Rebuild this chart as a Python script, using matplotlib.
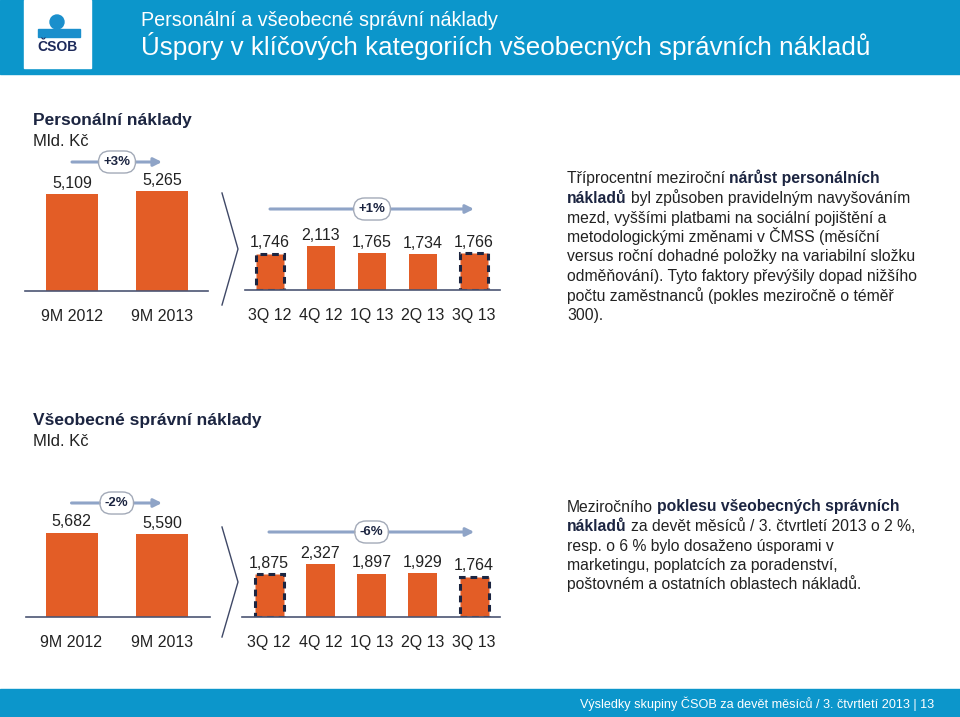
import matplotlib.pyplot as plt
from matplotlib.patches import Rectangle, Circle

plt.rcParams['font.family'] = ['Liberation Sans', 'DejaVu Sans']

# --- data ---
personal_years = ['9M 2012', '9M 2013']
personal_year_values = [5109, 5265]
personal_quarters = ['3Q 12', '4Q 12', '1Q 13', '2Q 13', '3Q 13']
personal_quarter_values = [1746, 2113, 1765, 1734, 1766]
personal_changes = ['+3%', '+1%']

general_years = ['9M 2012', '9M 2013']
general_year_values = [5682, 5590]
general_quarters = ['3Q 12', '4Q 12', '1Q 13', '2Q 13', '3Q 13']
general_quarter_values = [1875, 2327, 1897, 1929, 1764]
general_changes = ['-2%', '-6%']

personal_text = [
    [('Tříprocentní meziroční', False), ('nárůst personálních', True)],
    [('nákladů', True), ('byl způsoben pravidelným navyšováním', False)],
    [('mezd, vyššími platbami na sociální pojištění a', False)],
    [('metodologickými změnami v ČMSS (měsíční', False)],
    [('versus roční dohadné položky na variabilní složku', False)],
    [('odměňování). Tyto faktory převýšily dopad nižšího', False)],
    [('počtu zaměstnanců (pokles meziročně o téměř', False)],
    [('300).', False)],
]
general_text = [
    [('Meziročního', False), ('poklesu všeobecných správních', True)],
    [('nákladů', True), ('za devět měsíců / 3. čtvrtletí 2013 o 2 %,', False)],
    [('resp. o 6 % bylo dosaženo úsporami v', False)],
    [('marketingu, poplatcích za poradenství,', False)],
    [('poštovném a ostatních oblastech nákladů.', False)],
]

# --- colours ---
BLUE = '#0C96CB'
ORANGE = '#E35D26'
NAVY = '#1C2541'
TEXT = '#222222'
ARROW = '#8FA4C7'
AXIS = '#4B5573'

W, H = 960, 717
fig = plt.figure(figsize=(W / 100, H / 100), dpi=100)
bg = fig.add_axes([0, 0, 1, 1])
bg.set_xlim(0, W)
bg.set_ylim(H, 0)
bg.axis('off')


def bar_panel(x0, x1, ytop, ybase, c0, step, bar_px, per_px,
              labels, values, change, arrow_y, dashed=False):
    ax = fig.add_axes([x0 / W, 1 - ybase / H, (x1 - x0) / W, (ybase - ytop) / H])
    ax.patch.set_alpha(0)
    n = len(values)
    ax.set_xlim(-(c0 - x0) / step, (x1 - c0) / step)
    ax.set_ylim(0, (ybase - ytop) * per_px)
    idx = list(range(n))
    bars = ax.bar(idx, values, width=bar_px / step, color=ORANGE, zorder=2)
    if dashed:
        for i in (0, n - 1):
            bars[i].set_edgecolor(NAVY)
            bars[i].set_linestyle((0, (2.2, 1.6)))
            bars[i].set_linewidth(2.2)
    for i, v in enumerate(values):
        ax.annotate(f'{v:,}', (i, v), xytext=(0, 2.5), textcoords='offset points',
                    ha='center', va='bottom', fontsize=11.5, color=TEXT)
    ax.set_xticks(idx, labels)
    ax.set_yticks([])
    ax.tick_params(length=0, pad=13, labelsize=11.5, labelcolor=TEXT)
    for s in ['top', 'left', 'right']:
        ax.spines[s].set_visible(False)
    ax.spines['bottom'].set_color(AXIS)
    ax.spines['bottom'].set_linewidth(1.2)
    # change arrow
    tr = ax.get_xaxis_transform()
    fy = (ybase - arrow_y) / (ybase - ytop)
    ax.annotate('', xy=(n - 1, fy), xytext=(0, fy), xycoords=tr, textcoords=tr,
                arrowprops=dict(arrowstyle='-|>', color=ARROW, lw=2.2,
                                mutation_scale=12, shrinkA=0, shrinkB=0),
                annotation_clip=False)
    ax.text((n - 1) / 2, fy, change, transform=tr, ha='center', va='center',
            fontsize=9.5, fontweight='bold', color=NAVY, zorder=5,
            bbox=dict(boxstyle='round,pad=0.38,rounding_size=0.85',
                      fc='white', ec='#A3AAB8', lw=1))
    return ax


def paragraph(x, y0, lines, step=19.5, size=11.3):
    # y0 is the visual middle of the first line; draw on the baseline
    r = fig.canvas.get_renderer()
    a = bg.text(0, 0, 'x x', fontsize=size).get_window_extent(r).width
    b = bg.text(0, 0, 'xx', fontsize=size).get_window_extent(r).width
    space = a - b
    bg.texts[-1].remove()
    bg.texts[-1].remove()
    for k, segs in enumerate(lines):
        cx = x
        for txt, bold in segs:
            t = bg.text(cx, y0 + 5.5 + k * step, txt, fontsize=size, va='baseline',
                        fontweight='bold' if bold else 'normal',
                        color=NAVY if bold else TEXT)
            cx += t.get_window_extent(r).width + space


# header
bg.add_patch(Rectangle((0, 0), W, 74, color=BLUE))
bg.add_patch(Rectangle((24, 0), 67, 68, color='white'))
bg.add_patch(Circle((57, 22), 7, color='#1A8FCC'))
bg.add_patch(Rectangle((38, 29), 42, 8, color='#1A8FCC'))
bg.text(57.5, 47, 'ČSOB', ha='center', va='center', fontsize=10,
        fontweight='bold', color='#1D2A5B')
bg.text(141, 21, 'Personální a všeobecné správní náklady', fontsize=14.2,
        color='white', va='center')
bg.text(141, 46, 'Úspory v klíčových kategoriích všeobecných správních nákladů',
        fontsize=18.7, color='white', va='center')

# footer
bg.add_patch(Rectangle((0, 689), W, 28, color=BLUE))
bg.text(934, 704, 'Výsledky skupiny ČSOB za devět měsíců / 3. čtvrtletí 2013 | 13',
        fontsize=9.1, color='white', ha='right', va='center')

# section titles
bg.text(33, 120, 'Personální náklady', fontsize=12.5, fontweight='bold',
        color=NAVY, va='center')
bg.text(33, 142, 'Mld. Kč', fontsize=12, color=TEXT, va='center')
bg.text(33, 421, 'Všeobecné správní náklady', fontsize=12.5, fontweight='bold',
        color=NAVY, va='center')
bg.text(33, 441, 'Mld. Kč', fontsize=12, color=TEXT, va='center')

# chevrons
bg.plot([222, 238, 222], [193, 249, 305], color='#3F4866', lw=1)
bg.plot([222, 238, 222], [527, 582, 637], color='#3F4866', lw=1)

# charts
bar_panel(25, 208, 140, 291, 72, 90, 52, 52.8, personal_years,
          personal_year_values, personal_changes[0], 162)
bar_panel(245, 500, 140, 290, 270, 51, 28, 48.3, personal_quarters,
          personal_quarter_values, personal_changes[1], 209, dashed=True)
bar_panel(26, 210, 480, 617, 71.5, 90.5, 52, 67.6, general_years,
          general_year_values, general_changes[0], 503)
bar_panel(242, 500, 480, 617, 269, 51.3, 29, 44, general_quarters,
          general_quarter_values, general_changes[1], 532, dashed=True)

# commentary
paragraph(567, 178, personal_text)
paragraph(567, 506, general_text)

plt.savefig('out.png', dpi=100)
